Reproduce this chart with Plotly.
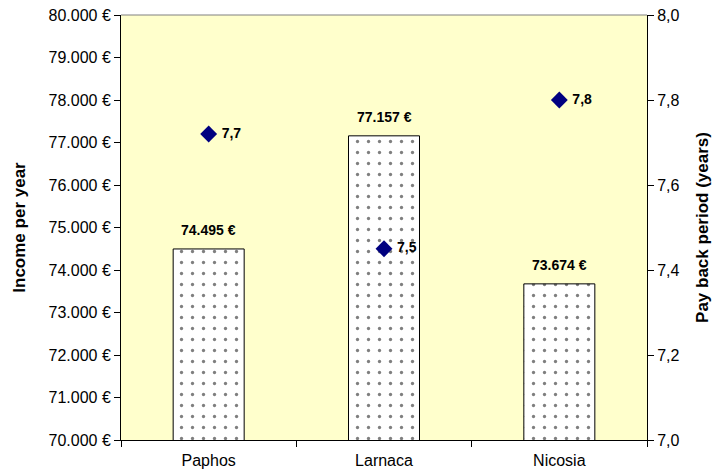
import plotly.graph_objects as go

# Annual income and pay back period per city
cities = ["Paphos", "Larnaca", "Nicosia"]
income = [74495, 77157, 73674]
payback_years = [7.72, 7.45, 7.80]

income_ticks = list(range(70000, 80001, 1000))
payback_ticks = [7.0, 7.2, 7.4, 7.6, 7.8, 8.0]


def euro(v):
    return f"{v:,.0f} €".replace(",", ".")


FONT = "Liberation Sans, Arial, sans-serif"
BG = "#FFFFCC"

fig = go.Figure()

fig.add_trace(go.Bar(
    x=cities,
    y=income,
    name="Income per year",
    marker=dict(
        color="white",
        line=dict(color="black", width=1),
        pattern=dict(shape=".", fgcolor="black", bgcolor="white",
                     size=11, solidity=0.07),
    ),
    yaxis="y",
    showlegend=False,
))

# income labels above each bar
for c, v in zip(cities, income):
    fig.add_annotation(
        x=c, y=v, xref="x", yref="y",
        text=euro(v),
        showarrow=False, yshift=19,
        font=dict(family=FONT, size=14, color="black", weight="bold"),
    )

fig.add_trace(go.Scatter(
    x=cities,
    y=payback_years,
    name="Pay back period",
    mode="markers+text",
    marker=dict(symbol="diamond", size=13, color="#000080"),
    text=[f" {v:.1f}".replace(".", ",") for v in payback_years],
    textposition="middle right",
    textfont=dict(family=FONT, size=14, color="black", weight="bold"),
    yaxis="y2",
    cliponaxis=False,
    showlegend=False,
))

axis_font = dict(family=FONT, size=16, color="black")
title_font = dict(family=FONT, size=17, color="black", weight="bold")

fig.update_layout(
    width=712, height=476,
    margin=dict(l=121, r=65, t=15, b=36),
    paper_bgcolor="white",
    plot_bgcolor=BG,
    separators=",.",
    bargap=0.595,
    font=dict(family=FONT, color="black"),
    xaxis=dict(
        type="category", automargin=False,
        showline=True, linecolor="black", linewidth=1,
        ticks="outside", tickson="boundaries", ticklen=6, tickcolor="black",
        tickfont=axis_font, ticklabelstandoff=6,
        showgrid=False,
    ),
    yaxis=dict(
        range=[70000, 80000], automargin=False,
        tickvals=income_ticks,
        ticktext=[euro(t) for t in income_ticks],
        showline=True, linecolor="black", linewidth=1,
        ticks="outside", ticklen=6, tickcolor="black",
        tickfont=axis_font,
        showgrid=False, zeroline=False,
        title=dict(text="Income per year", font=title_font, standoff=18),
    ),
    yaxis2=dict(
        range=[7.0, 8.0], automargin=False,
        tickvals=payback_ticks,
        tickformat=".1f",
        overlaying="y", side="right",
        showline=True, linecolor="black", linewidth=1,
        ticks="outside", ticklen=6, tickcolor="black",
        tickfont=axis_font,
        showgrid=False, zeroline=False,
        title=dict(text="Pay back period (years)", font=title_font, standoff=18),
    ),
    # inner halves of the crossing tick marks
    yaxis3=dict(
        range=[70000, 80000], tickvals=income_ticks, automargin=False,
        overlaying="y", side="left", anchor="x",
        ticks="inside", ticklen=6, tickcolor="black",
        showticklabels=False, showline=False, showgrid=False, zeroline=False,
    ),
    yaxis4=dict(
        range=[7.0, 8.0], tickvals=payback_ticks, automargin=False,
        overlaying="y", side="right", anchor="x",
        ticks="inside", ticklen=6, tickcolor="black",
        showticklabels=False, showline=False, showgrid=False, zeroline=False,
    ),
    shapes=[dict(type="line", xref="paper", yref="paper", x0=0, x1=1, y0=1, y1=1,
                 line=dict(color="#808080", width=1))],
)

fig.write_html("out.html")
